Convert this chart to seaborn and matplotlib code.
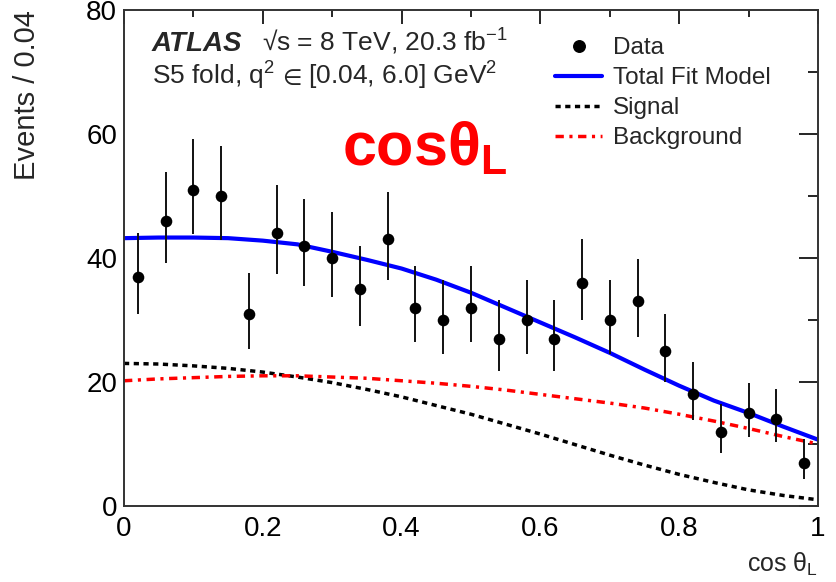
import matplotlib
matplotlib.use("Agg")
import matplotlib.pyplot as plt
import seaborn as sns
import pandas as pd
from matplotlib.lines import Line2D
from matplotlib.ticker import MultipleLocator

# ---- data ----
bin_centers = [0.02, 0.06, 0.10, 0.14, 0.18, 0.22, 0.26, 0.30, 0.34, 0.38,
               0.42, 0.46, 0.50, 0.54, 0.58, 0.62, 0.66, 0.70, 0.74, 0.78,
               0.82, 0.86, 0.90, 0.94, 0.98]
events = [37, 46, 51, 50, 31, 44, 42, 40, 35, 43,
          32, 30, 32, 27, 30, 27, 36, 30, 33, 25,
          18, 12, 15, 14, 7]
err_low = [6.1, 6.8, 7.1, 7.1, 5.6, 6.6, 6.5, 6.3, 5.9, 6.6,
           5.6, 5.5, 5.6, 5.2, 5.5, 5.2, 6.0, 5.5, 5.7, 5.0,
           4.2, 3.4, 3.8, 3.7, 2.6]
err_up = [7.1, 7.8, 8.2, 8.1, 6.6, 7.7, 7.5, 7.4, 7.0, 7.6,
          6.7, 6.5, 6.7, 6.3, 6.5, 6.3, 7.0, 6.5, 6.8, 6.0,
          5.3, 4.5, 4.9, 4.8, 3.8]

curve_x = [0.00, 0.05, 0.10, 0.15, 0.20, 0.25, 0.30, 0.35, 0.40, 0.45, 0.50,
           0.55, 0.60, 0.65, 0.70, 0.75, 0.80, 0.85, 0.90, 0.95, 1.00]
total_fit = [43.2, 43.3, 43.3, 43.2, 42.8, 42.2, 41.0, 39.7, 38.3, 36.5, 34.4,
             32.0, 29.6, 27.2, 24.7, 22.0, 19.4, 17.0, 15.0, 12.8, 10.7]
signal = [23.0, 22.9, 22.6, 22.2, 21.6, 20.8, 19.9, 18.8, 17.6, 16.2, 14.8,
          13.2, 11.6, 9.9, 8.2, 6.6, 5.1, 3.8, 2.6, 1.7, 1.0]
background = [20.2, 20.5, 20.7, 20.9, 21.0, 21.0, 20.8, 20.6, 20.2, 19.8, 19.3,
              18.7, 18.0, 17.3, 16.6, 15.8, 14.8, 13.7, 12.5, 11.2, 10.0]

x_ticks = [0, 0.2, 0.4, 0.6, 0.8, 1]
x_ticklabels = ["0", "0.2", "0.4", "0.6", "0.8", "1"]
y_ticks = [0, 20, 40, 60, 80]

# ---- style ----
sns.set_theme(style="white")
plt.rcParams['font.family'] = ['Liberation Sans', 'DejaVu Sans']
plt.rcParams['mathtext.fontset'] = 'custom'
plt.rcParams['mathtext.rm'] = 'Liberation Sans'
plt.rcParams['mathtext.it'] = 'Liberation Sans:italic'
plt.rcParams['mathtext.bf'] = 'Liberation Sans:bold'

W, H = 837, 582
fig = plt.figure(figsize=(W / 100, H / 100), dpi=100)
ax = fig.add_axes([124 / W, 1 - 506 / H, (818 - 124) / W, (506 - 10) / H])

curves = pd.DataFrame({"x": curve_x, "total": total_fit,
                       "signal": signal, "background": background})

sig_ls = (0, (1.5, 1.3))
bkg_ls = (0, (2.4, 1.6, 0.9, 1.6))
sns.lineplot(data=curves, x="x", y="signal", ax=ax, color="black",
             lw=2.5, linestyle=sig_ls, label="_nolegend_")
sns.lineplot(data=curves, x="x", y="background", ax=ax, color="red",
             lw=2.5, linestyle=bkg_ls, label="_nolegend_")
sns.lineplot(data=curves, x="x", y="total", ax=ax, color="#0000ff",
             lw=3.0, label="_nolegend_")

ax.errorbar(bin_centers, events, yerr=[err_low, err_up], fmt="none",
            ecolor="#111111", elinewidth=1.4, capsize=0, zorder=4)
pts = pd.DataFrame({"x": bin_centers, "y": events})
sns.scatterplot(data=pts, x="x", y="y", ax=ax, color="black", s=70,
                edgecolor="black", linewidth=0, zorder=5, legend=False)

ax.set_xlim(0, 1)
ax.set_ylim(0, 80)
ax.set_xticks(x_ticks)
ax.set_xticklabels(x_ticklabels)
ax.set_yticks(y_ticks)
ax.xaxis.set_minor_locator(MultipleLocator(0.1))
ax.yaxis.set_minor_locator(MultipleLocator(10))
ax.tick_params(which="both", direction="in", top=True, right=True,
               labelsize=20, colors="black", width=1.2)
ax.tick_params(axis="x", which="major", length=10, pad=7)
ax.tick_params(axis="x", which="minor", length=5)
ax.tick_params(axis="y", which="major", length=14, pad=5)
ax.tick_params(axis="y", which="minor", length=7)
for s in ax.spines.values():
    s.set_color("#333333")
    s.set_linewidth(1.4)

ax.set_xlabel("")
ax.set_ylabel("")
fig.text(818 / W, 1 - 572 / H, r"cos θ$_{\mathrm{L}}$", ha="right",
         va="baseline", fontsize=18)
fig.text(27 / W, 1 - 10 / H, "Events / 0.04", rotation=90, ha="center",
         va="top", fontsize=21)

fig.text(152 / W, 1 - 51 / H, "ATLAS", fontsize=20,
         fontweight="bold", fontstyle="italic", va="baseline")
fig.text(262 / W, 1 - 51 / H, r"√s = 8 TeV, 20.3 fb$^{-1}$",
         fontsize=19, va="baseline")

# second info line, assembled so that the element-of sign uses DejaVu Sans
renderer = fig.canvas.get_renderer()
x_cur = 152
pieces = [(r"S5 fold, q$^{2}$ ", "Liberation Sans", 19),
          ("∈", "DejaVu Sans", 16),
          (r" [0.04, 6.0] GeV$^{2}$", "Liberation Sans", 19)]
for txt, fam, fs in pieces:
    t = fig.text(x_cur / W, 1 - 85 / H, txt, fontsize=fs, va="baseline",
                 family=fam)
    bb = t.get_window_extent(renderer=renderer)
    x_cur = bb.x1 + (5 if txt.endswith(" ") else 0)

fig.text(342 / W, 1 - 165 / H, r"cos$\mathbf{\theta}_{\mathbf{L}}$",
         fontsize=44, fontweight="bold", color="red", va="baseline")

handles = [
    Line2D([0], [0], color="black", marker="o", markersize=8.3, linestyle="none"),
    Line2D([0], [0], color="#0000ff", lw=3.0),
    Line2D([0], [0], color="black", lw=2.5, linestyle=sig_ls),
    Line2D([0], [0], color="red", lw=2.5, linestyle=bkg_ls),
]
labels = ["Data", "Total Fit Model", "Signal", "Background"]
leg = ax.legend(handles, labels, loc="upper left",
                bbox_to_anchor=(555 / W, 1 - 37 / H), bbox_transform=fig.transFigure,
                frameon=False, fontsize=17.5, handlelength=1.95, handletextpad=0.42,
                labelspacing=0.33, borderaxespad=0, borderpad=0)

fig.savefig("out.png", dpi=100)
